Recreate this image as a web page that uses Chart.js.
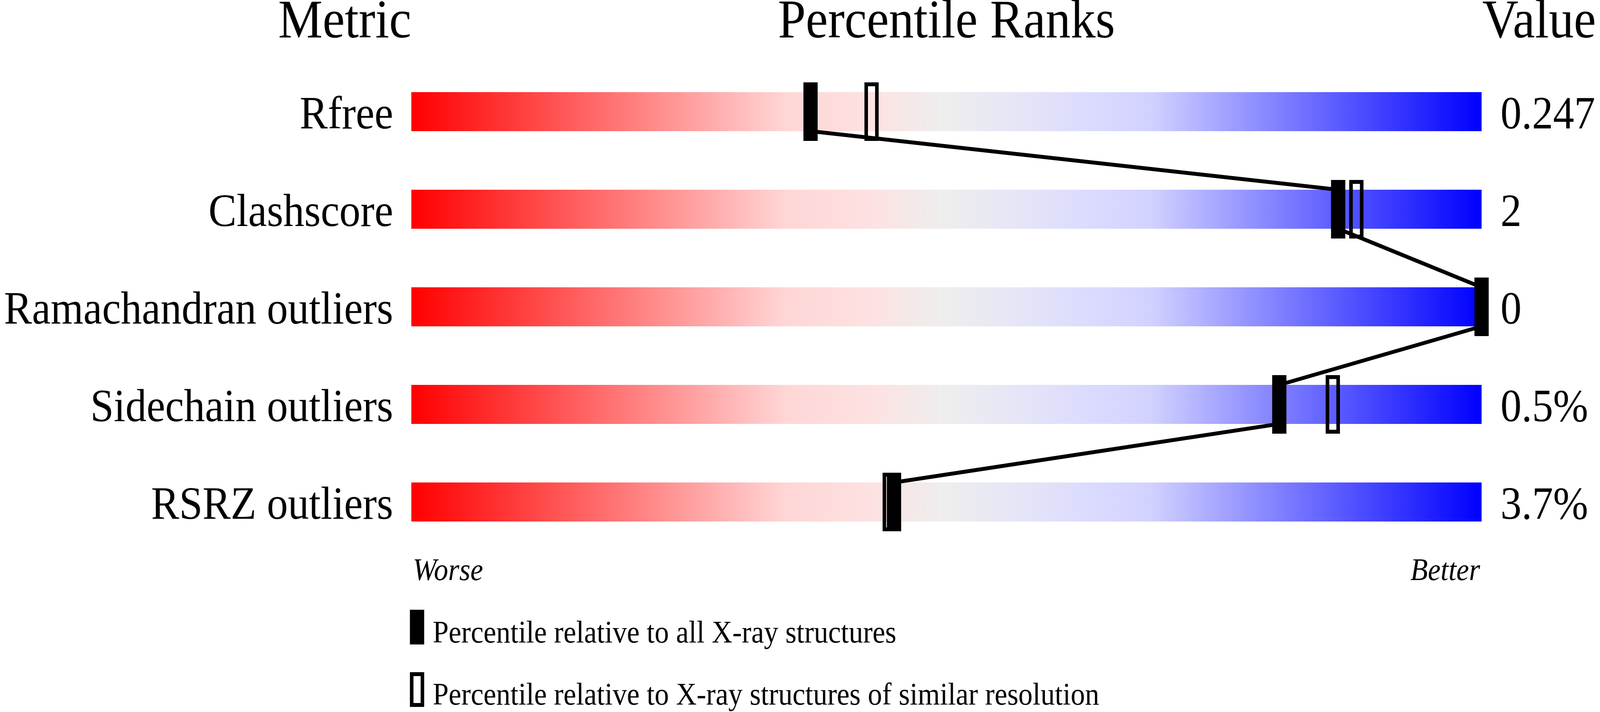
<!DOCTYPE html>
<html>
<head>
<meta charset="utf-8">
<script src="https://cdn.jsdelivr.net/npm/chart.js@4.4.1/dist/chart.umd.min.js"></script>
<style>
  html, body { margin: 0; padding: 0; background: #ffffff; overflow: hidden; }
  #c { position: fixed; left: 0; top: 0; display: block; }
</style>
</head>
<body>
<canvas id="c" width="4485" height="1824" style="width:100vw;height:100vh;"></canvas>
<script>
// ---------------- data ----------------
const METRICS = ['Rfree', 'Clashscore', 'Ramachandran outliers', 'Sidechain outliers', 'RSRZ outliers'];
const VALUES = ['0.247', '2', '0', '0.5%', '3.7%'];
const PCT_ALL = [37.3, 86.6, 100, 81.1, 45.1];      // percentile relative to all X-ray structures
const PCT_SIMILAR = [43.0, 88.3, 100, 86.1, 44.7];  // percentile relative to similar resolution
const BAR_RANGE = [0, 100];
const HEADERS = ['Metric', 'Percentile Ranks', 'Value'];
const SCALE_ENDS = ['Worse', 'Better'];
const LEGEND_LABELS = ['Percentile relative to all X-ray structures',
                       'Percentile relative to X-ray structures of similar resolution'];

// ---------------- style ----------------
const SERIF = "'Liberation Serif', 'Times New Roman', serif";
const BAR_FRACTION = 0.4;        // bar thickness as a fraction of the category band
const MARK_W = 40, MARK_H = 150, MARK_BORDER = 10;

function makeMarker(filled, w, h) {
  const cv = document.createElement('canvas');
  cv.width = w; cv.height = h;
  const g = cv.getContext('2d');
  g.fillStyle = '#000';
  if (filled) {
    g.fillRect(0, 0, w, h);
  } else {
    g.fillRect(0, 0, w, MARK_BORDER);
    g.fillRect(0, h - MARK_BORDER, w, MARK_BORDER);
    g.fillRect(0, 0, MARK_BORDER, h);
    g.fillRect(w - MARK_BORDER, 0, MARK_BORDER, h);
  }
  return cv;
}
const markFilled = makeMarker(true, MARK_W, MARK_H);
const markOpen = makeMarker(false, MARK_W, MARK_H);

// connector path: bottom of each bar to top of the next bar at the black marker
const half = BAR_FRACTION / 2;
const connector = [];
PCT_ALL.forEach((p, i) => {
  if (i > 0) connector.push({ x: p, y: i - half });
  if (i < PCT_ALL.length - 1) connector.push({ x: p, y: i + half });
});

function barGradient(ctx) {
  const chart = ctx.chart;
  const a = chart.chartArea;
  if (!a) return '#eeeeee';
  const xs = chart.scales.x;
  const g = chart.ctx.createLinearGradient(xs.getPixelForValue(BAR_RANGE[0]), 0, xs.getPixelForValue(BAR_RANGE[1]), 0);
  g.addColorStop(0.00, 'rgb(255,0,0)');
  g.addColorStop(0.35, 'rgb(255,214,214)');
  g.addColorStop(0.43, 'rgb(253,226,226)');
  g.addColorStop(0.50, 'rgb(238,238,238)');
  g.addColorStop(0.57, 'rgb(229,229,248)');
  g.addColorStop(0.64, 'rgb(218,218,255)');
  g.addColorStop(0.69, 'rgb(210,210,255)');
  g.addColorStop(1.00, 'rgb(0,0,255)');
  return g;
}

const decor = {
  id: 'decor',
  afterDraw(chart) {
    const c = chart.ctx;
    const a = chart.chartArea;
    c.save();
    c.fillStyle = '#000';
    c.textBaseline = 'alphabetic';
    // headers
    c.font = `140px ${SERIF}`;
    c.textAlign = 'right';
    c.fillText(HEADERS[0], a.left, 96);
    c.textAlign = 'center';
    c.fillText(HEADERS[1], (a.left + a.right) / 2, 96);
    c.textAlign = 'left';
    c.fillText(HEADERS[2], a.right + 2, 96);
    // worse / better
    c.font = `italic 80px ${SERIF}`;
    c.textAlign = 'left';
    c.fillText(SCALE_ENDS[0], a.left + 4, 1486);
    c.textAlign = 'right';
    c.fillText(SCALE_ENDS[1], a.right - 4, 1486);
    // legend
    const lx = a.left - 4;
    c.drawImage(makeMarker(true, 40, 89), lx, 1562);
    c.drawImage(makeMarker(false, 40, 89), lx, 1722);
    c.font = `80px ${SERIF}`;
    c.textAlign = 'left';
    c.fillText(LEGEND_LABELS[0], lx + 64, 1646);
    c.fillText(LEGEND_LABELS[1], lx + 64, 1805);
    c.restore();
  }
};

new Chart(document.getElementById('c'), {
  type: 'bar',
  data: {
    labels: METRICS,
    datasets: [
      {
        type: 'scatter',
        label: 'all',
        data: PCT_ALL.map((p, i) => ({ x: p, y: i })),
        xAxisID: 'x', yAxisID: 'yl',
        pointStyle: markFilled,
        pointRadius: 20,
        clip: false,
        order: 1
      },
      {
        type: 'line',
        label: 'connector',
        data: connector,
        xAxisID: 'x', yAxisID: 'yl',
        borderColor: '#000',
        borderWidth: 10,
        pointRadius: 0,
        tension: 0,
        fill: false,
        clip: false,
        order: 2
      },
      {
        type: 'scatter',
        label: 'similar',
        data: PCT_SIMILAR.map((p, i) => ({ x: p, y: i })),
        xAxisID: 'x', yAxisID: 'yl',
        pointStyle: markOpen,
        pointRadius: 20,
        clip: false,
        order: 3
      },
      {
        type: 'bar',
        label: 'range',
        indexAxis: 'y',
        data: METRICS.map(() => BAR_RANGE),
        xAxisID: 'x', yAxisID: 'y',
        backgroundColor: barGradient,
        borderWidth: 0,
        barPercentage: BAR_FRACTION,
        categoryPercentage: 1.0,
        order: 4
      }
    ]
  },
  options: {
    responsive: false,
    maintainAspectRatio: false,
    animation: false,
    devicePixelRatio: 1,
    events: [],
    layout: { padding: { top: 161, bottom: 413, left: 0, right: 0 } },
    plugins: { legend: { display: false }, tooltip: { enabled: false }, title: { display: false } },
    scales: {
      x: { type: 'linear', min: 0, max: 100, offset: false, display: false, grid: { offset: false } },
      yl: { type: 'linear', min: -0.5, max: 4.5, reverse: true, offset: false, display: false },
      y: {
        type: 'category', position: 'left', offset: true,
        grid: { display: false, drawTicks: false }, border: { display: false },
        ticks: { color: '#000', font: { family: SERIF, size: 118 }, padding: 51, labelOffset: 12, autoSkip: false },
        afterFit(s) { s.width = 1153; }
      },
      yr: {
        type: 'category', position: 'right', offset: true, labels: VALUES,
        grid: { display: false, drawTicks: false }, border: { display: false },
        ticks: { color: '#000', font: { family: SERIF, size: 118 }, padding: 53, labelOffset: 12, autoSkip: false },
        afterFit(s) { s.width = 332; }
      }
    }
  },
  plugins: [decor]
});
</script>
</body>
</html>
